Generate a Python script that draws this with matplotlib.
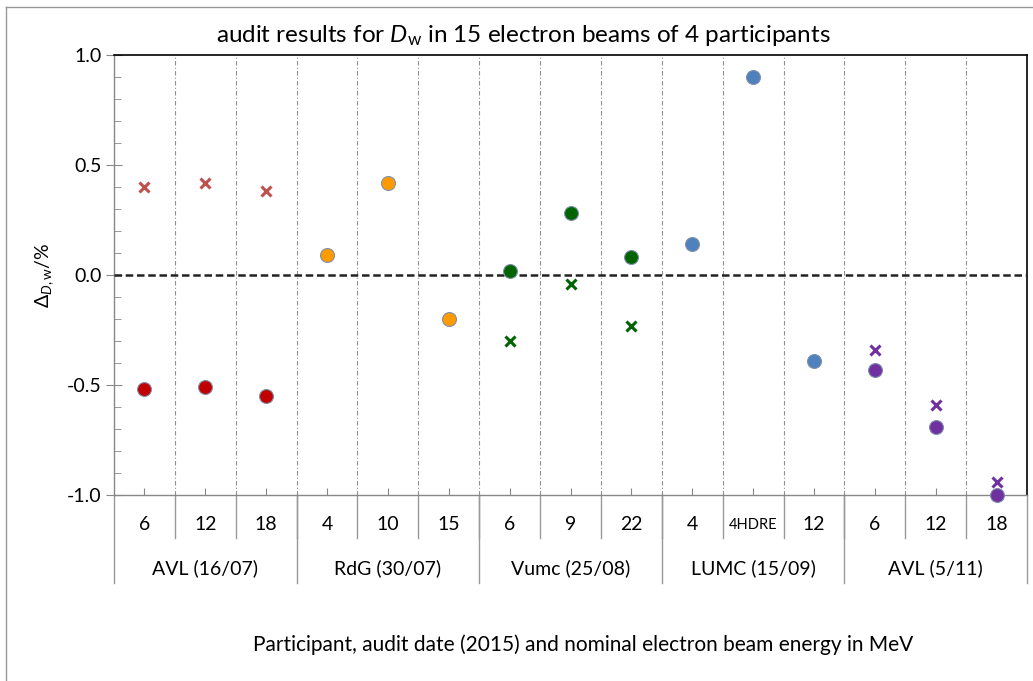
import matplotlib
matplotlib.use('Agg')
import matplotlib.pyplot as plt
import matplotlib.transforms as mtransforms
from matplotlib.lines import Line2D
import numpy as np

plt.rcParams['font.family'] = ['Lato', 'DejaVu Sans']
plt.rcParams['axes.unicode_minus'] = False
plt.rcParams['mathtext.fontset'] = 'custom'
plt.rcParams['mathtext.rm'] = 'Lato'
plt.rcParams['mathtext.it'] = 'Lato:italic'

# beam energies (MeV) per audit, in plotting order
energies = ['6', '12', '18', '4', '10', '15', '6', '9', '22', '4', '4HDRE', '12', '6', '12', '18']
participants = ['AVL (16/07)', 'RdG (30/07)', 'Vumc (25/08)', 'LUMC (15/09)', 'AVL (5/11)']
group_size = [3, 3, 3, 3, 3]

# deviation in %, circles and crosses (nan = no cross)
dev_circle = [-0.52, -0.51, -0.55, 0.09, 0.42, -0.20, 0.02, 0.28, 0.08, 0.14, 0.90, -0.39, -0.43, -0.69, -1.00]
dev_cross = [0.40, 0.42, 0.38, np.nan, np.nan, np.nan, -0.30, -0.04, -0.23,
             np.nan, np.nan, np.nan, -0.34, -0.59, -0.94]

circle_colors = ['#C00000', '#FF9A00', '#006400', '#4F81BD', '#7030A0']
cross_colors = ['#C0504D', None, '#006400', None, '#7030A0']

fig = plt.figure(figsize=(10.33, 6.81), dpi=100)
ax = fig.add_axes([114/1033, 1-495/681, (1027-114)/1033, 440/681])

x = np.arange(len(energies))
start = 0
for g, n in enumerate(group_size):
    xs = x[start:start+n]
    ax.plot(xs, dev_circle[start:start+n], 'o', ms=10, color=circle_colors[g],
            mec='#8090A8', mew=0.8, zorder=4, clip_on=False)
    if cross_colors[g] is not None:
        ax.plot(xs, dev_cross[start:start+n], 'x', ms=7, mew=2.2,
                color=cross_colors[g], zorder=4, clip_on=False)
    start += n

ax.axhline(0, color='#222222', ls=(0, (3, 1.5)), lw=1.8, zorder=3)

ax.set_xlim(-0.5, len(energies) - 0.5)
ax.set_ylim(-1.0, 1.0)

# category boundary grid lines
for b in np.arange(0.5, len(energies) - 0.5, 1):
    ax.axvline(b, color='#909090', ls=(0, (4, 2, 1, 2)), lw=0.8, zorder=1)

ax.set_yticks([-1.0, -0.5, 0.0, 0.5, 1.0])
ax.set_yticklabels(['-1.0', '-0.5', '0.0', '0.5', '1.0'], fontsize=14)
ax.set_yticks(np.arange(-1.0, 1.01, 0.1), minor=True)
ax.tick_params(axis='y', which='major', direction='inout', length=12, color='#888888', pad=3)
ax.tick_params(axis='y', which='minor', direction='in', length=5, color='#888888')
ax.set_xticks(x)
ax.set_xticklabels([])
ax.tick_params(axis='x', which='major', direction='in', length=5, color='#888888')

for s in ['left', 'bottom']:
    ax.spines[s].set_color('#888888')
    ax.spines[s].set_linewidth(1.0)
for s in ['top', 'right']:
    ax.spines[s].set_color('black')
    ax.spines[s].set_linewidth(1.2)

# multi-level category axis
trans = mtransforms.blended_transform_factory(ax.transData, ax.transAxes)
for i, lab in enumerate(energies):
    fs = 10.5 if len(lab) > 3 else 14
    ax.text(i, -0.068, lab, transform=trans, ha='center', va='center', fontsize=fs)
for b in np.arange(0.5, len(energies) - 0.5, 1):
    ax.add_line(Line2D([b, b], [0, -0.098], transform=trans, color='#999999', lw=1.0, clip_on=False))
edges = np.concatenate([[0], np.cumsum(group_size)]) - 0.5
for e in edges:
    ax.add_line(Line2D([e, e], [0, -0.2], transform=trans, color='#999999', lw=1.0, clip_on=False))
for g, name in enumerate(participants):
    mid = (edges[g] + edges[g+1]) / 2
    ax.text(mid, -0.166, name, transform=trans, ha='center', va='center', fontsize=14)

fig.text(0.507, 1-35/681, r'audit results for $D_{\mathrm{w}}$ in 15 electron beams of 4 participants',
         ha='center', va='center', fontsize=17.5)
fig.text(45/1033, 1-275/681, r'$\Delta_{D,\mathrm{w}}$/%', rotation=90, ha='center', va='center', fontsize=14)
fig.text(583/1033, 1-645/681, 'Participant, audit date (2015) and nominal electron beam energy in MeV',
         ha='center', va='center', fontsize=15)

# chart area border
fig.add_artist(Line2D([6/1033, 6/1033], [0, 1-7/681], color='#999999', lw=1.0))
fig.add_artist(Line2D([6/1033, 1], [1-7/681, 1-7/681], color='#999999', lw=1.0))

fig.savefig('out.png', dpi=100)
